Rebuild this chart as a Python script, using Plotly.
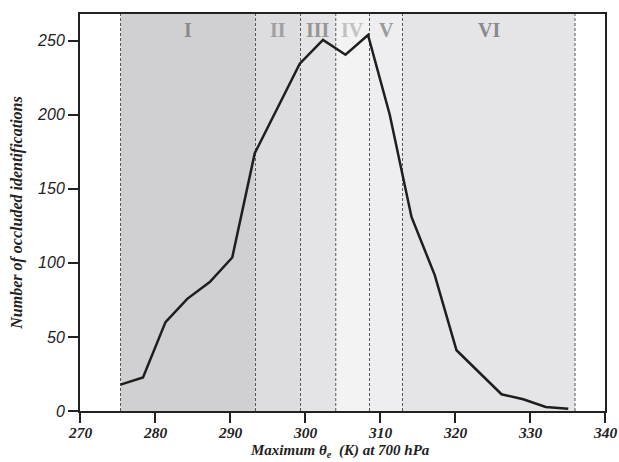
import plotly.graph_objects as go

theta = [275.4, 278.4, 281.4, 284.3, 287.3, 290.3, 293.3, 296.3, 299.3, 302.4, 305.4,
         308.4, 311.3, 314.2, 317.3, 320.2, 323.2, 326.2, 329.1, 332.1, 335.1]
counts = [17.8, 22.6, 60, 75.7, 87, 103.6, 174, 204, 234.5, 250.5, 240.5,
          253.8, 200, 131, 91.7, 41, 26.4, 11.3, 7.9, 2.7, 1.6]

region_names = ["I", "II", "III", "IV", "V", "VI"]
region_bounds = [275.4, 293.4, 299.4, 304.1, 308.6, 313.0, 336.0]
region_fill = ["#d0d0d2", "#dddddf", "#e4e4e6", "#f3f3f3", "#eeeef0", "#e5e5e7"]
region_label_color = ["#8a8a8a", "#a0a0a0", "#959595", "#c2c2c2", "#9a9a9a", "#8a8a8a"]

x_ticks = [270, 280, 290, 300, 310, 320, 330, 340]
y_ticks = [0, 50, 100, 150, 200, 250]

x_title = "<b><i>Maximum θ<sub>e</sub>  (K) at 700 hPa</i></b>"
y_title = "<b><i>Number of occluded identifications</i></b>"

fig = go.Figure()

shapes = []
annotations = []
for i, name in enumerate(region_names):
    x0, x1 = region_bounds[i], region_bounds[i + 1]
    shapes.append(dict(type="rect", xref="x", yref="paper", x0=x0, x1=x1, y0=0, y1=1,
                       fillcolor=region_fill[i], line=dict(width=0), layer="below"))
    annotations.append(dict(x=(x0 + x1) / 2, y=1, xref="x", yref="paper", yanchor="top",
                            yshift=-3, showarrow=False, text="<b>%s</b>" % name,
                            font=dict(family="Liberation Serif", size=20,
                                      color=region_label_color[i])))
for b in region_bounds:
    shapes.append(dict(type="line", xref="x", yref="paper", x0=b, x1=b, y0=0, y1=1,
                       line=dict(color="#555555", width=1, dash="3px,2px"), layer="below"))

for v in x_ticks:
    annotations.append(dict(x=v, y=0, xref="x", yref="paper", xanchor="center",
                            yanchor="middle", yshift=-21, showarrow=False, borderpad=0,
                            text="<b><i>%d</i></b>" % v,
                            font=dict(family="Liberation Serif", size=15.5, color="#222")))

annotations.append(dict(x=0.495, y=0, xref="paper", yref="paper", xanchor="center",
                        yanchor="middle", yshift=-40, showarrow=False, borderpad=0,
                        text=x_title,
                        font=dict(family="Liberation Serif", size=15, color="#222")))

fig.add_trace(go.Scatter(x=theta, y=counts, mode="lines",
                         line=dict(color="#1e1e1e", width=2.5), showlegend=False))

fig.update_layout(
    width=619, height=462,
    margin=dict(l=80, r=14, t=14, b=51),
    plot_bgcolor="white", paper_bgcolor="white",
    shapes=shapes, annotations=annotations,
    xaxis=dict(range=[270, 340], tickvals=x_ticks, showticklabels=False,
               ticks="outside", ticklen=10, tickwidth=2, tickcolor="#222",
               showline=True, linecolor="#222", linewidth=2, mirror=True,
               showgrid=False, zeroline=False, automargin=False),
    yaxis=dict(range=[0, 268], tickvals=y_ticks, ticktext=["<i>%d</i>" % v for v in y_ticks],
               ticks="outside", ticklen=10, tickwidth=2, tickcolor="#222",
               showline=True, linecolor="#222", linewidth=2, mirror=True,
               showgrid=False, zeroline=False, automargin=False,
               tickfont=dict(family="Liberation Sans", size=16, color="#222"),
               title=dict(text=y_title,
                          font=dict(family="Liberation Serif", size=16, color="#222"),
                          standoff=10)),
)

fig.write_html("out.html")
